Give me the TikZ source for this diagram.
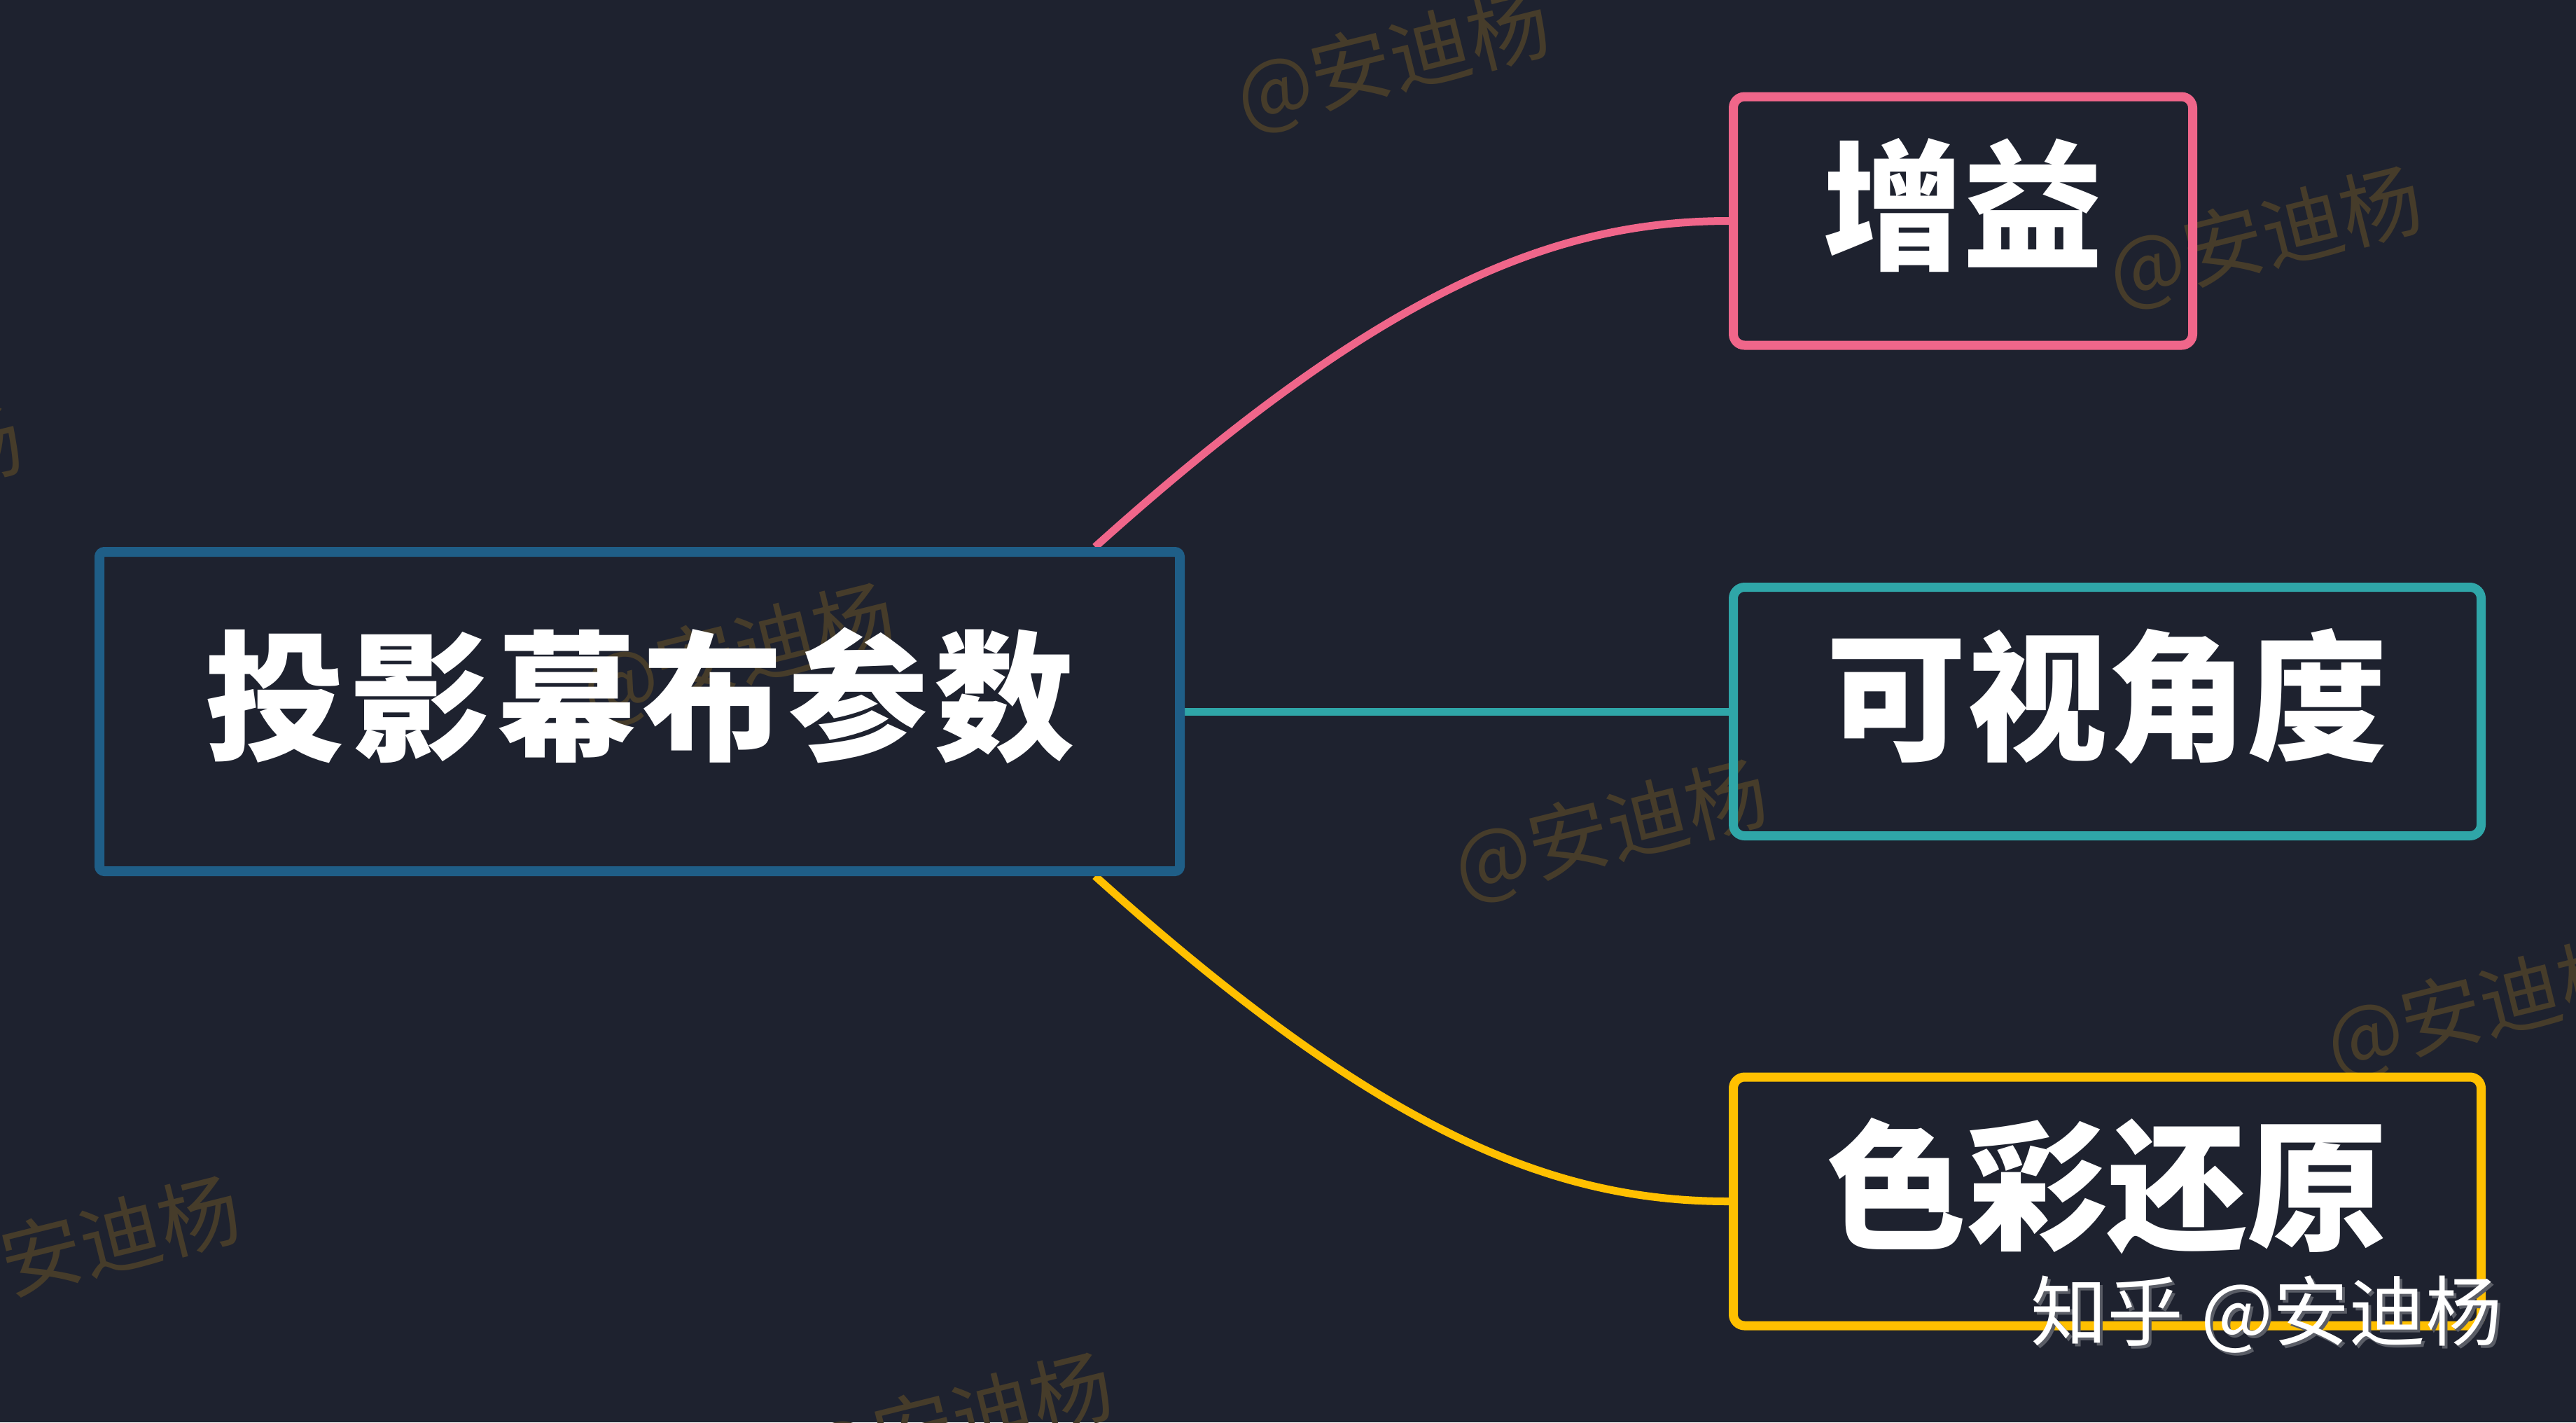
\documentclass[tikz,border=0pt]{standalone}
\usepackage{fontspec}
\newfontfamily\cjk{Noto Sans CJK SC}
\usetikzlibrary{positioning, calc}
\definecolor{mapBg}{HTML}{1E222F}
\definecolor{mapBlue}{HTML}{1F5E87}
\definecolor{mapPink}{HTML}{F0668A}
\definecolor{mapTeal}{HTML}{2FA6A8}
\definecolor{mapYellow}{HTML}{FFC000}
\definecolor{mapWater}{HTML}{463C2A}
\definecolor{mapShadow}{HTML}{5A5D66}
\pgfdeclarelayer{back}
\pgfsetlayers{back,main}

\begin{document}
\begin{tikzpicture}[
    rootbox/.style={
        draw=mapBlue, line width=0.14cm, rounded corners=2pt,
        minimum width=15.43cm, minimum height=4.56cm, text=white,
        font=\cjk\bfseries\fontsize{57}{62}\selectfont\addfontfeatures{LetterSpace=4},
        text height=1.6cm, text depth=0.52cm
    },
    branch/.style={
        line width=0.13cm, rounded corners=0.16cm, anchor=west,
        minimum height=3.55cm, text=white,
        font=\cjk\bfseries\fontsize{57}{62}\selectfont,
        text height=1.6cm, text depth=0.52cm
    },
    link/.style={line width=0.11cm},
    wmark/.style={text=mapWater, font=\cjk\fontsize{33}{36}\selectfont, rotate=14, inner sep=0pt},
    signtext/.style={font=\cjk\fontsize{31}{34}\selectfont, inner sep=0pt}
]
\useasboundingbox (0,0) rectangle (36.79,-20.31);

% Root and branches
\node[rootbox] (root) at (9.135,-10.16) {投影幕布参数};
\node[branch, draw=mapPink, minimum width=6.56cm] (gain) at (24.69,-3.155) {增益};
\node[branch, draw=mapTeal, minimum width=10.68cm] (view) at (24.69,-10.16) {可视角度};
\node[branch, draw=mapYellow, minimum width=10.68cm] (color) at (24.69,-17.155) {色彩还原};

\begin{pgfonlayer}{back}
    \fill[mapBg] (0,0) rectangle (36.79,-20.31);
    % Watermarks
    \foreach \wx/\wy [count=\i] in {-1.91/-6.83, 10.55/-9.35, 23.01/-11.87, 35.47/-14.39,
        19.90/-0.88, 32.36/-3.40, 1.20/-17.82, 13.66/-20.34}
        \node[wmark] (wm\i) at (\wx,\wy) {@安迪杨};
    % Links
    \draw[link, mapPink] ($(root.north east)+(-1.28,0)$) .. controls +(4.09,3.68) and +(-2.5,0) .. (gain.west);
    \draw[link, mapTeal] (root.east) -- (view.west);
    \draw[link, mapYellow] ($(root.south east)+(-1.28,0)$) .. controls +(4.09,-3.68) and +(-2.5,0) .. (color.west);
\end{pgfonlayer}

% Signature
\node[signtext, text=mapShadow] (signshadow) at (32.41,-18.81) {知乎 @安迪杨};
\node[signtext, text=white] (sign) at (32.37,-18.77) {知乎 @安迪杨};

\end{tikzpicture}
\end{document}
